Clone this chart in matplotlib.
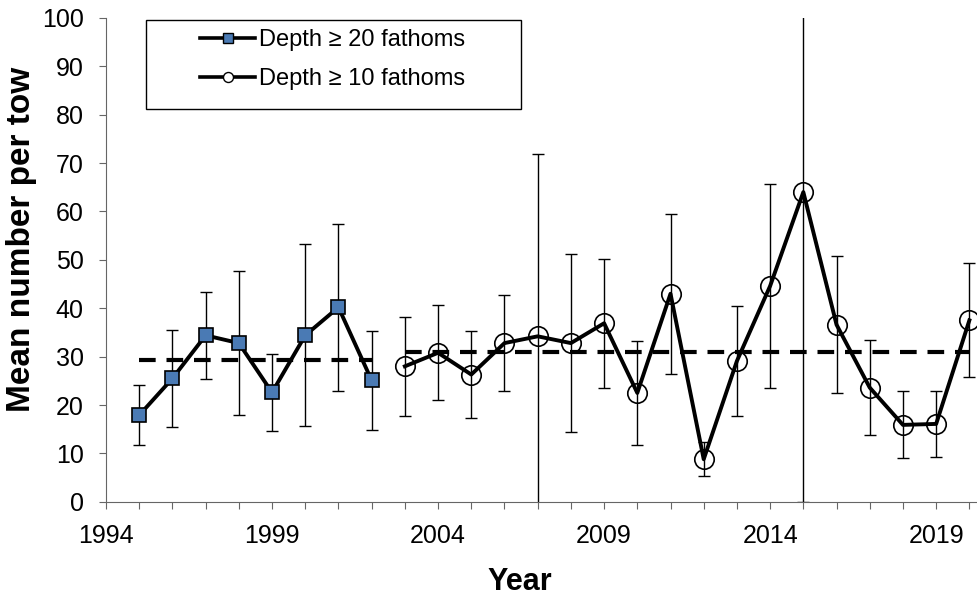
import numpy as np
import matplotlib.pyplot as plt
from matplotlib.lines import Line2D
from matplotlib.patches import Rectangle

plt.rcParams['font.family'] = ['Liberation Sans', 'DejaVu Sans']

# 水深 >= 20 fathoms
years_20 = [1995, 1996, 1997, 1998, 1999, 2000, 2001, 2002]
mean_20 = [17.9, 25.5, 34.4, 32.8, 22.6, 34.4, 40.2, 25.1]
err_20 = [6.2, 10.0, 9.0, 14.8, 7.9, 18.8, 17.3, 10.2]
avg_20 = 29.3

# 水深 >= 10 fathoms
years_10 = [2003, 2004, 2005, 2006, 2007, 2008, 2009, 2010, 2011,
            2012, 2013, 2014, 2015, 2016, 2017, 2018, 2019, 2020]
mean_10 = [28.0, 30.8, 26.3, 32.8, 34.2, 32.8, 36.9, 22.5, 43.0,
           8.8, 29.1, 44.6, 64.0, 36.6, 23.6, 15.9, 16.1, 37.5]
err_10 = [10.2, 9.8, 8.9, 10.0, 37.6, 18.4, 13.3, 10.7, 16.5,
          3.5, 11.3, 21.0, 64.0, 14.2, 9.8, 6.9, 6.9, 11.8]
avg_10 = 30.9

fig = plt.figure(figsize=(9.77, 5.96), dpi=100)
ax = fig.add_axes([0.1085, 0.158, 0.8915, 0.812])

# 误差线
ax.errorbar(years_20, mean_20, yerr=err_20, fmt='none', ecolor='black',
            elinewidth=1.0, capsize=4, capthick=1.0, zorder=2)
ax.errorbar(years_10, mean_10, yerr=err_10, fmt='none', ecolor='black',
            elinewidth=1.0, capsize=4, capthick=1.0, zorder=2)

# 平均值虚线
ax.plot([years_20[0], years_20[-1]], [avg_20, avg_20], color='black', lw=3,
        dashes=(4, 2.6), zorder=3)
ax.plot([years_10[0], years_10[-1]], [avg_10, avg_10], color='black', lw=3,
        dashes=(4, 2.6), zorder=3)

# 主线
ax.plot(years_20, mean_20, color='black', lw=2.8, marker='s', markersize=10.5,
        markerfacecolor='#4A7AB4', markeredgecolor='black', markeredgewidth=1.2,
        zorder=4)
ax.plot(years_10, mean_10, color='black', lw=2.8, marker='o', markersize=14,
        markerfacecolor='none', markeredgecolor='black', markeredgewidth=1.2,
        zorder=4)

ax.set_xlim(1994, 2020.23)
ax.set_ylim(0, 100)
ax.set_xticks(np.arange(1994, 2021, 5))
ax.set_xticks(np.arange(1994, 2021, 1), minor=True)
ax.set_yticks(np.arange(0, 101, 10))
ax.tick_params(axis='both', which='both', direction='out', length=5,
               width=0.8, color='#666666', labelsize=18, pad=11)
for s in ['top', 'right']:
    ax.spines[s].set_visible(False)
for s in ['left', 'bottom']:
    ax.spines[s].set_color('#666666')
    ax.spines[s].set_linewidth(0.8)

ax.set_xlabel('Year', fontsize=22, fontweight='bold')
ax.set_ylabel('Mean number per tow', fontsize=24, fontweight='bold')
ax.xaxis.set_label_coords(0.475, -0.134)
ax.yaxis.set_label_coords(-0.079, 0.543)

# 图例框
ax.add_patch(Rectangle((146, 596 - 109), 375, 89, transform=None,
                       facecolor='white', edgecolor='black', lw=1.0,
                       zorder=5, clip_on=False))
h1 = Line2D([], [], color='black', lw=2.6, marker='s', markersize=7.2,
            markerfacecolor='#4A7AB4', markeredgecolor='black', markeredgewidth=1)
h2 = Line2D([], [], color='black', lw=2.6, marker='o', markersize=7.2,
            markerfacecolor='white', markeredgecolor='black', markeredgewidth=1)
leg = ax.legend([h1, h2], ['Depth \u2265 20 fathoms', 'Depth \u2265 10 fathoms'],
                loc='upper left', bbox_to_anchor=(200 / 977, 1 - 29 / 596),
                bbox_transform=fig.transFigure, fontsize=17, frameon=False,
                handlelength=2.33, handletextpad=0.17, borderpad=0,
                labelspacing=0.72, borderaxespad=0)
leg.set_zorder(6)

fig.savefig('out.png', dpi=100)
